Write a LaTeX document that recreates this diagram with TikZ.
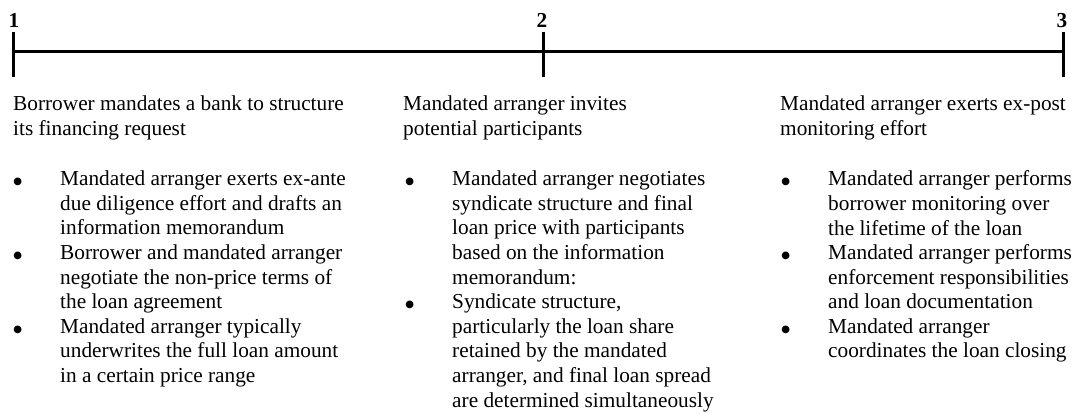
\documentclass[tikz,border=0pt]{standalone}
\usepackage{fontspec}
\setmainfont{Liberation Serif}
\usepackage{tikz}

\begin{document}
\begin{tikzpicture}[x=1pt, y=-1pt,
		txt/.style={anchor=north west, inner sep=0pt, align=left, font=\fontsize{21.3}{24.6}\selectfont, execute at begin node=\strut},
		dot/.style={anchor=base west, inner sep=0pt, font=\fontsize{32}{32}\selectfont},
		stage/.style={anchor=base, inner sep=0pt, font=\fontsize{21.3}{24.6}\selectfont\bfseries},
		bar/.style={line width=3pt}]
				\useasboundingbox (0, 0) rectangle (1073, 414);
				% time line
				\coordinate (t1) at (13, 52);
				\coordinate (t2) at (543, 52);
				\coordinate (t3) at (1063, 52);
				\draw[bar] (t1) -- (t3);
				\draw[bar] (13, 32) -- (13, 77);
				\draw[bar] (543, 32) -- (543, 77);
				\draw[bar] (1063, 32) -- (1063, 77);
				\node[stage] (n1) at (14, 28) {1};
				\node[stage] (n2) at (542, 28) {2};
				\node[stage] (n3) at (1062, 28) {3};
				% stage 1 (text tops are baseline minus strut height)
				\node[txt] (h1) at (13, 95.8) {Borrower mandates a bank to structure\\its financing request};
				\node[dot] (d11) at (12, 192.5) {\textbullet};
				\node[txt] (i11) at (60, 170.8) {Mandated arranger exerts ex-ante\\due diligence effort and drafts an\\information memorandum};
				\node[dot] (d12) at (12, 266.3) {\textbullet};
				\node[txt] (i12) at (60, 244.6) {Borrower and mandated arranger\\negotiate the non-price terms of\\the loan agreement};
				\node[dot] (d13) at (12, 340.1) {\textbullet};
				\node[txt] (i13) at (60, 318.4) {Mandated arranger typically\\underwrites the full loan amount\\in a certain price range};
				% stage 2
				\node[txt] (h2) at (403, 95.8) {Mandated arranger invites\\potential participants};
				\node[dot] (d21) at (404, 192.5) {\textbullet};
				\node[txt] (i21) at (452, 170.8) {Mandated arranger negotiates\\syndicate structure and final\\loan price with participants\\based on the information\\memorandum:};
				\node[dot] (d22) at (404, 315.5) {\textbullet};
				\node[txt] (i22) at (452, 293.8) {Syndicate structure,\\particularly the loan share\\retained by the mandated\\arranger, and final loan spread\\are determined simultaneously};
				% stage 3
				\node[txt] (h3) at (780, 95.8) {Mandated arranger exerts ex-post\\monitoring effort};
				\node[dot] (d31) at (780, 192.5) {\textbullet};
				\node[txt] (i31) at (828, 170.8) {Mandated arranger performs\\borrower monitoring over\\the lifetime of the loan};
				\node[dot] (d32) at (780, 266.3) {\textbullet};
				\node[txt] (i32) at (828, 244.6) {Mandated arranger performs\\enforcement responsibilities\\and loan documentation};
				\node[dot] (d33) at (780, 340.1) {\textbullet};
				\node[txt] (i33) at (828, 318.4) {Mandated arranger\\coordinates the loan closing};
			\end{tikzpicture}
\end{document}
